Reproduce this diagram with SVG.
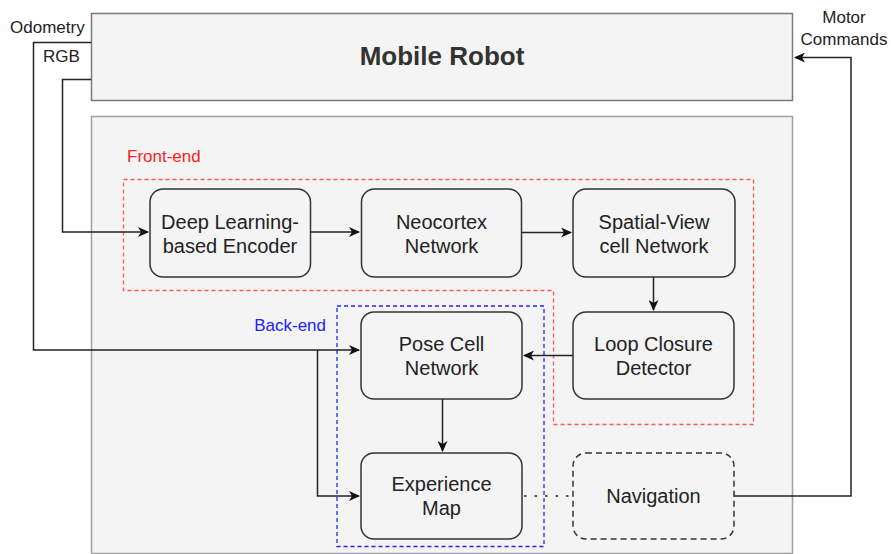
<svg xmlns="http://www.w3.org/2000/svg" width="891" height="554" viewBox="0 0 891 554">
  <style>
    .node { fill: #f4f4f4; stroke: #333333; stroke-width: 1.5; }
    .nav { fill: #f4f4f4; stroke: #333333; stroke-width: 1.5; stroke-dasharray: 6 4; }
    .txt { font-family: "Liberation Sans", Arial, sans-serif; font-size: 20px; fill: #222222; text-anchor: middle; }
    .lbl { font-family: "Liberation Sans", Arial, sans-serif; font-size: 17px; fill: #222222; }
    .edge { fill: none; stroke: #222222; stroke-width: 1.5; }
  </style>
  <defs>
    <marker id="arrow" viewBox="0 0 11 10" refX="10" refY="5" markerWidth="11" markerHeight="10" markerUnits="userSpaceOnUse" orient="auto">
      <path d="M0,0 L11,5 L0,10 L3,5 Z" fill="#111111"/>
    </marker>
  </defs>

  <!-- robot platform -->
  <g id="mobile-robot">
    <rect x="91.5" y="13.5" width="701" height="87" fill="#f4f4f4" stroke="#7a7a7a" stroke-width="1.5"/>
    <text x="442" y="65" font-family="Liberation Sans, Arial, sans-serif" font-size="26" font-weight="bold" fill="#333333" text-anchor="middle">Mobile Robot</text>
  </g>

  <!-- system container -->
  <g id="system">
    <rect x="91.5" y="116.5" width="701" height="437" fill="#f4f4f4" stroke="#a0a0a0" stroke-width="1.5"/>
  </g>

  <!-- front-end region -->
  <g id="front-end">
    <path d="M123.5,179.5 H753.5 V424.5 H553.5 V290.5 H123.5 Z" fill="none" stroke="#ff5555" stroke-width="1.3" stroke-dasharray="4 3"/>
    <text x="127" y="162" class="lbl" style="fill:#ff2020">Front-end</text>
  </g>

  <!-- back-end region -->
  <g id="back-end">
    <rect x="337" y="306" width="207" height="240.5" fill="none" stroke="#2222ff" stroke-width="1.3" stroke-dasharray="4 3"/>
    <text x="326" y="331" class="lbl" text-anchor="end" style="fill:#2222ff">Back-end</text>
  </g>

  <!-- connectors -->
  <g id="connectors">
    <path class="edge" d="M91,42.5 H33.5 V350 H359" marker-end="url(#arrow)"/>
    <path class="edge" d="M317.5,350 V496 H359" marker-end="url(#arrow)"/>
    <path class="edge" d="M91,79.5 H62.5 V232 H148" marker-end="url(#arrow)"/>
    <path class="edge" d="M310,232 H359" marker-end="url(#arrow)"/>
    <path class="edge" d="M521,232.5 H571" marker-end="url(#arrow)"/>
    <path class="edge" d="M653.5,277 V310" marker-end="url(#arrow)"/>
    <path class="edge" d="M573,355.5 H524" marker-end="url(#arrow)"/>
    <path class="edge" d="M442.5,399 V451" marker-end="url(#arrow)"/>
    <path class="edge" d="M524,496 H573" stroke-dasharray="2.5 8" stroke-width="3"/>
    <path class="edge" d="M734,496 H851 V57.5 H795" marker-end="url(#arrow)"/>
  </g>

  <!-- external labels -->
  <g id="labels">
    <text x="10" y="33" class="lbl">Odometry</text>
    <text x="43" y="62" class="lbl">RGB</text>
    <text x="844" y="23" class="lbl" text-anchor="middle">Motor</text>
    <text x="844" y="45" class="lbl" text-anchor="middle">Commands</text>
  </g>

  <g id="encoder">
    <rect class="node" x="150" y="189" width="160.5" height="88" rx="13"/>
    <text class="txt" x="230" y="229">Deep Learning-</text>
    <text class="txt" x="230" y="253">based Encoder</text>
  </g>

  <g id="neocortex">
    <rect class="node" x="361.5" y="189" width="160" height="88" rx="13"/>
    <text class="txt" x="441.5" y="229">Neocortex</text>
    <text class="txt" x="441.5" y="253">Network</text>
  </g>

  <g id="spatial-view">
    <rect class="node" x="573" y="189" width="162" height="88" rx="13"/>
    <text class="txt" x="654" y="229">Spatial-View</text>
    <text class="txt" x="654" y="253">cell Network</text>
  </g>

  <g id="loop-closure">
    <rect class="node" x="573" y="312" width="161" height="87" rx="13"/>
    <text class="txt" x="653.5" y="351">Loop Closure</text>
    <text class="txt" x="653.5" y="375">Detector</text>
  </g>

  <g id="pose-cell">
    <rect class="node" x="361" y="312" width="161" height="87" rx="13"/>
    <text class="txt" x="441.5" y="351">Pose Cell</text>
    <text class="txt" x="441.5" y="375">Network</text>
  </g>

  <g id="experience-map">
    <rect class="node" x="361" y="453" width="161" height="86" rx="13"/>
    <text class="txt" x="441.5" y="491">Experience</text>
    <text class="txt" x="441.5" y="515">Map</text>
  </g>

  <g id="navigation">
    <rect class="nav" x="573" y="453" width="161" height="86" rx="13"/>
    <text class="txt" x="653.5" y="503">Navigation</text>
  </g>
</svg>
